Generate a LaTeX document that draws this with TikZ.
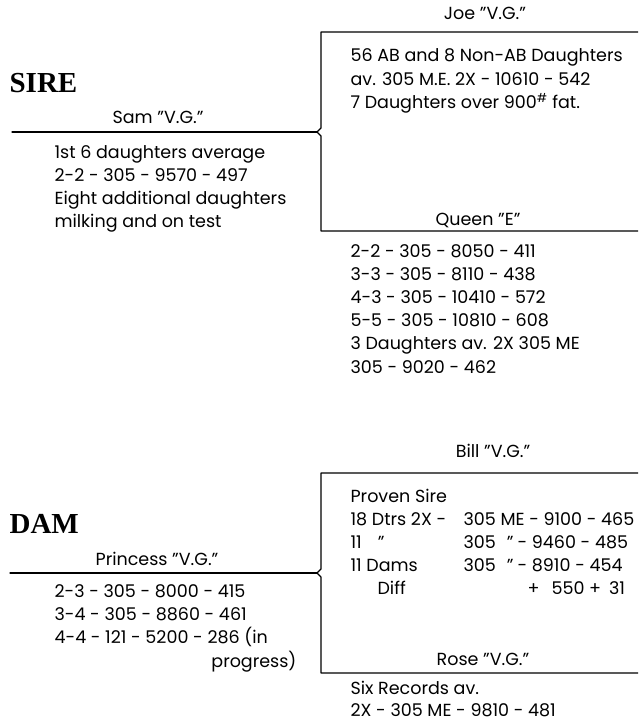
\documentclass[tikz,border=0pt]{standalone}
\usepackage{fontspec}
\setmainfont{Poppins}
\newfontfamily\headfont{Liberation Serif}
\begin{document}
\begin{tikzpicture}[x=1pt, y=-1pt, line join=round, line cap=round, line width=1.2,
  every node/.style={inner sep=0pt, font=\fontsize{17.5}{23.2}\selectfont},
  lbl/.style={anchor=base},
  txt/.style={anchor=base west, align=left},
  head/.style={anchor=base west, font=\headfont\bfseries\fontsize{29}{29}\selectfont}]
\useasboundingbox (0,0) rectangle (638,722);
\clip (0,0) rectangle (638,722);

% sire side (text nodes sit on their last line)
\node[head] (sire) at (9,93) {SIRE};
\node[lbl] (sam) at (158,124) {Sam "V.G."};
\node[txt] (samrec) at (54,227.6) {1st 6 daughters average\\2-2 - 305 - 9570 - 497\\Eight additional daughters\\milking and on test};
\coordinate (samtip) at (317,132);
\draw (12,132) -- (samtip);
\draw (638,32) -- (321,32) -- (321,128) -- (samtip) -- (321,136) -- (321,231) -- (638,231);

\node[lbl] (joe) at (485,20) {Joe "V.G."};
\node[txt] (joerec) at (350,108.4) {56 AB and 8 Non-AB Daughters\\av. 305 M.E. 2X - 10610 - 542\\7 Daughters over 900\textsuperscript{\#} fat.};
\node[lbl] (queen) at (478,225) {Queen "E"};
\node[txt] (queenrec) at (350,373) {2-2 - 305 - 8050 - 411\\3-3 - 305 - 8110 - 438\\4-3 - 305 - 10410 - 572\\5-5 - 305 - 10810 - 608\\3 Daughters av. 2X 305 ME\\305 - 9020 - 462};

% dam side
\node[head] (dam) at (9,533) {DAM};
\node[lbl] (princess) at (157,565) {Princess "V.G."};
\node[txt] (princessrec) at (54,643.4) {2-3 - 305 - 8000 - 415\\3-4 - 305 - 8860 - 461\\4-4 - 121 - 5200 - 286 (in};
\node[anchor=base east] (progress) at (297,667) {progress)};
\coordinate (princesstip) at (317,573);
\draw (10,573) -- (princesstip);
\draw (638,473) -- (321,473) -- (321,569) -- (princesstip) -- (321,577) -- (321,673) -- (638,673);

\node[lbl] (bill) at (493,457) {Bill "V.G."};
\node[txt] (billrec) at (350,594.8) {Proven Sire\\18 Dtrs 2X -\\11\hspace{16pt}"\\11 Dams\\\hspace{27pt}Diff};
\node[txt] (billme) at (463,571.4) {305 ME - 9100 - 465\\305\hspace{11pt}"\\305\hspace{11pt}"};
\node[txt] (billfig) at (517,594.6) {- 9460 - 485\\- 8910 - 454\\\hspace{10pt}+\hspace{12pt}550 +\hspace{8pt}31};
\node[lbl] (rose) at (483,665) {Rose "V.G."};
\node[txt] (roserec) at (350,716) {Six Records av.\\[-2pt]2X - 305 ME - 9810 - 481};
\end{tikzpicture}
\end{document}
